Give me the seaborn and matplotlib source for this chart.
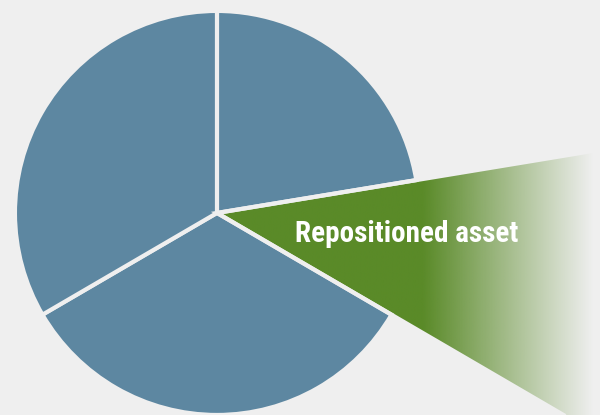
import numpy as np
import matplotlib
matplotlib.use("Agg")
import matplotlib.pyplot as plt
import seaborn as sns
from matplotlib.colors import to_rgb

# Data (clockwise from 12 o'clock)
categories = ["Segment A", "Repositioned asset", "Segment B", "Segment C"]
shares = [22.4, 11.0, 33.2, 33.4]
highlight = "Repositioned asset"

BG = "#efefef"
BLUE = "#5d87a1"
GREEN = "#5a8a28"

sns.set_style("white", {"axes.facecolor": BG, "figure.facecolor": BG})
plt.rcParams["font.family"] = ["Roboto Condensed", "Liberation Sans Narrow",
                               "Roboto", "DejaVu Sans"]

fig = plt.figure(figsize=(6, 4.15), dpi=100)
ax = fig.add_axes([0, 0, 1, 1])
ax.set_facecolor(BG)

colors = [GREEN if c == highlight else BLUE for c in categories]
wedges, _ = ax.pie(shares, startangle=90, counterclock=False, colors=colors,
                   radius=1, wedgeprops=dict(edgecolor=BG, linewidth=3))

idx = categories.index(highlight)
hw = wedges[idx]
hw.set_radius(2.6)
hw.set_facecolor("none")
hw.set_zorder(2)

# Horizontal gradient: solid green, fading to background
xl, xr = -1.074, 1.896
yb, yt = -1.0, 1.054
n = 600
xs = np.linspace(0, xr, n)
t = np.clip((xs - 1.02) / (1.86 - 1.02), 0, 1)
alpha = 1 - t
rgba = np.zeros((2, n, 4))
rgba[..., :3] = to_rgb(GREEN)
rgba[..., 3] = alpha
im = ax.imshow(rgba, extent=(0, xr, yb - 0.5, yt + 0.5), origin="lower",
               aspect="auto", interpolation="bilinear", zorder=0.9)
im.set_clip_path(hw)

ax.text(0.94, -0.1436, highlight, color="white", fontsize=21,
        fontweight="bold", ha="center", va="baseline", zorder=5)

ax.set_aspect("equal")
ax.set_xlim(xl, xr)
ax.set_ylim(yb, yt)
ax.axis("off")

fig.savefig("out.png", dpi=100, facecolor=BG)
